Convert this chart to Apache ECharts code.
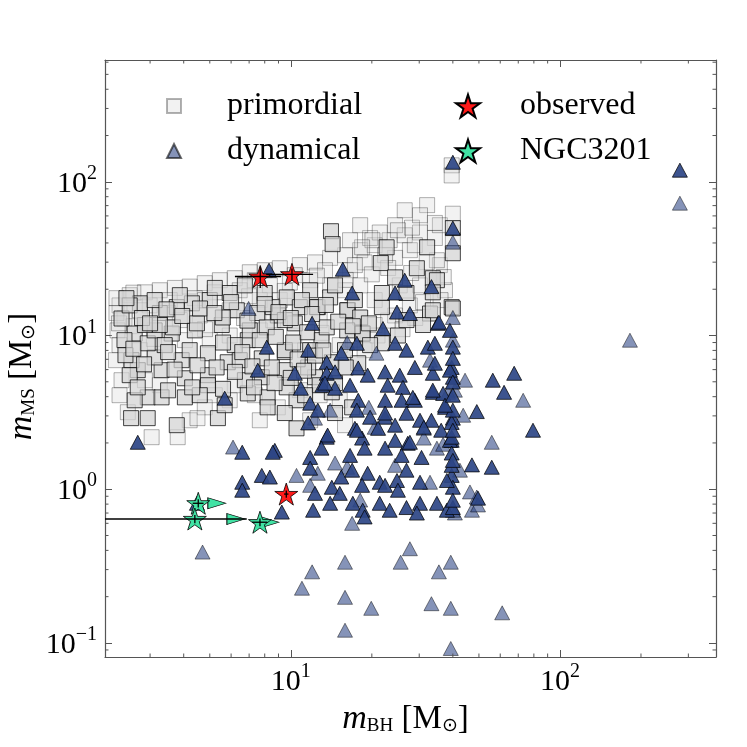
<!DOCTYPE html>
<html>
<head>
<meta charset="utf-8">
<script src="https://cdn.jsdelivr.net/npm/echarts@6/dist/echarts.min.js"></script>
<style>
  html, body { margin: 0; padding: 0; background: #fff; }
  #chart { width: 747px; height: 747px; }
</style>
</head>
<body>
<div id="chart"></div>
<script>
// axis ranges (log axes)
const xRange = [2.04, 380];
const yRange = [0.081, 620];

// primordial binaries, faint and strong points  [m_BH, m_MS]
const primordialFaint = [
  [2.31,15.7],[2.52,18.3],[2.87,19.1],[3.26,19.7],[3.71,20.4],[4.21,20.8],[4.79,21.9],[5.45,22.9],[6.19,23.6],[7.04,25.8],
  [8.0,26.6],[9.1,27.4],[10.8,28.7],[12.3,29.9],[14.0,32.0],[15.9,33.3],[18.1,35.9],[20.5,38.7],[23.3,41.7],[26.5,44.9],
  [30.2,46.8],[34.3,43.1],[35.8,52.2],[27.7,35.9],[24.4,32.0],[19.7,43.1],[18.8,29.9],[16.6,26.6],[13.4,26.6],[11.8,22.9],
  [9.92,22.1],[8.36,21.2],[6.46,19.7],[5.22,19.1],[4.4,17.5],[3.55,17.0],[2.99,15.7],[2.41,12.9],[2.27,10.8],[2.31,8.66],
  [2.24,6.91],[2.35,5.12],[2.31,4.09],[2.48,3.17],[3.04,2.18],[3.8,2.18],[4.21,2.81],[4.79,3.41],[4.5,2.9],[8.95,3.41],
  [6.19,4.75],[7.35,4.09],[10.8,4.41],[12.8,4.09],[11.8,2.81],[15.2,3.79],[15.9,2.61],[7.67,2.81],[5.93,3.79],[5.22,4.09],
  [3.26,4.75],[2.87,5.12],[2.75,8.03],[3.40,8.66],[4.04,9.33],[5.0,9.33],[5.93,10.0],[7.67,10.8],[11.3,8.03],[15.2,8.66],
  [18.8,8.03],[20.5,11.7],[24.4,13.5],[27.7,15.7],[30.2,21.2],[35.8,28.7],[37.4,19.7],[25.4,21.2],[20.5,17.0],[18.1,21.2],
  [15.9,19.7],[14.0,21.2],[39.6,128],[39.6,110],[32.1,70.5],[40.0,62.0],[34.9,30.9],[40,41.7],[24.4,52.2],[21.4,46.8],
  [28.2,50.3],[25.0,48.4],[20.1,41.7],[18.4,37.5],[16.6,41.7],[18.1,52.2],[26.5,65.3],[30.2,60.6],[34.3,54.0],[28.9,38.7],
  [22.4,33.3],[17.3,28.7],[10.35,24.7],[7.35,22.9],[2.75,14.6],[7.67,17.0],[5.93,14.6],[4.59,13.5],[3.87,12.6],[9.1,17.0],
  [12.8,12.6],[2.6,11.5],[3.1,9.5],[4.8,11.0],[6.7,13.0],[8.6,12.6],[10.3,10.0],[13.0,10.4],[17.0,9.4],[21.0,10.0],
  [23.0,12.5],[26.0,11.0],[29.0,13.0],[31.0,16.5],[36.0,17.0],[37.0,24.0],[32.0,30.0],[28.0,25.5],[23.0,27.5],[20.0,25.0],
  [16.0,23.0],[12.5,24.5],[9.5,19.5],[7.0,18.0],[4.8,17.0],[3.5,14.0],[2.6,19.0],[2.25,17.5],[2.25,14.0],[2.3,12.0]
];
const primordialStrong = [
  [2.55,2.9],[2.94,2.9],[3.77,2.61],[5.36,2.9],[10.5,2.49],[2.94,3.96],[2.63,3.79],[3.31,3.96],[4.04,3.96],[6.92,4.2],
  [8.2,3.96],[10.5,3.79],[14.2,4.27],[9.5,3.13],[14.6,3.13],[8.2,3.41],[16.9,3.41],[2.7,5.95],[3.31,5.95],[4.04,5.27],
  [4.92,5.52],[6.75,5.12],[7.8,5.35],[9.5,5.95],[12.3,5.35],[14.6,4.9],[4.92,4.75],[9.66,4.6],[2.56,6.91],[3.12,7.2],
  [3.93,6.91],[4.92,7.67],[5.83,6.7],[6.46,6.91],[7.8,7.1],[9.5,7.8],[8.5,6.2],[11.6,6.2],[14.2,6.7],[17.8,6.6],
  [2.63,10.3],[2.94,8.9],[3.61,10.3],[4.4,10.8],[5.54,11.7],[6.92,9.33],[8.95,13.5],[10.35,12.0],[9.5,8.03],[13.0,9.33],
  [18.4,10.3],[21.8,8.9],[25.0,10.0],[12.6,15.3],[16.3,14.6],[21.8,15.3],[39.6,15.3],[32.9,13.9],[31.0,11.7],[26.9,12.6],
  [14.1,47.7],[14.3,39.3],[21.6,29.6],[22.7,37.5],[29.4,27.4],[32.1,37.5],[24.4,23.9],[21.8,18.9],[26.9,18.9],[33.7,23.6],
  [40,50],[40,34.3],[34.9,22.9],[40,15.0],[33.7,14.6],[33.7,19.1],[2.75,16.2],[3.26,14.0],[3.77,15.3],[4.29,16.2],
  [5.0,17.0],[5.93,18.9],[6.3,14.6],[7.5,14.0],[8.57,15.3],[9.66,17.7],[10.8,15.3],[12.5,15.3],[14.0,17.7],[16.2,14.6],
  [18.1,13.1],[2.41,9.33],[3.12,10.8],[3.65,11.3],[4.48,12.0],[5.59,13.1],[8.14,11.3],[9.5,12.6],[11.5,10.5],[13.6,11.3],
  [16.2,10.8],[18.5,10.3],[2.35,12.9],[2.43,7.45],[2.52,5.52],[2.87,11.7],[3.40,8.66],[4.21,8.03],[7.04,10.8],[6.19,8.66],
  [7.67,9.33],[11.8,8.03],[15.9,8.03],[19.7,8.66],[12.8,4.75],[11.3,4.09],[4.59,4.09],[5.68,3.52],[5.22,20.4],[6.75,21.2],
  [8.0,18.9],[11.8,19.7],[14.6,21.2],[17.3,17.0],[3.87,18.3],[3.12,17.0],[2.52,15.7],[3.26,11.7],
  [2.45,17.5],[2.8,13.0],[3.0,12.0],[3.45,14.8],[3.95,13.4],[4.6,15.0],[5.2,14.0],[6.0,16.5],[6.9,12.5],[8.0,16.0],
  [9.0,14.2],[10.0,13.0],[11.0,17.0],[12.0,13.8],[13.5,15.8],[15.0,12.3],[17.0,11.5],[19.5,12.0],[2.6,8.2],[2.85,6.5],
  [3.5,7.8],[3.7,6.0],[4.5,6.4],[5.3,6.2],[5.6,9.0],[6.6,7.8],[7.2,6.3],[8.8,9.8],[10.2,9.0],[10.6,7.0],
  [12.3,7.4],[13.2,8.0],[16.0,6.2],[2.7,4.6],[3.5,4.4],[4.3,4.6],[5.6,4.5],[6.2,5.8],[7.3,4.6],[8.7,4.9],
  [10.0,5.3],[11.2,5.9]
];

// dynamically formed binaries
const dynamicalFaint = [
  [279,72.6],[182,9.32],[40,40.5],[6.97,15.0],[40,13.1],[16.2,9.0],[20.8,7.67],[32.9,6.91],[19.5,3.41],[40.7,4.41],
  [12.3,2.9],[31.2,2.49],[44.4,5.12],[38.4,4.27],[43.7,3.03],[20.5,2.53],[31.2,2.15],[34.9,1.85],[55.8,2.02],[14.6,1.48],
  [16.2,1.39],[10.5,1.23],[12.6,1.27],[32.9,1.11],[49.1,0.89],[46.3,0.96],[40.7,0.70],[47.1,0.73],[49.6,0.79],[16.9,0.60],
  [6.1,1.88],[4.7,0.39],[12.0,0.29],[11.0,0.227],[15.9,0.335],[15.9,0.198],[15.9,0.121],[19.9,0.168],[25.6,0.335],[27.7,0.41],
  [35.5,0.29],[39.3,0.335],[33.3,0.18],[39.3,0.168],[61.0,0.157],[39.3,0.092],[73.0,3.79],[40,9.33],[36.8,1.96],[40,0.73],
  [14.0,3.27],[24.4,1.43],[18.1,0.85],[42.5,1.33],[11.8,1.06]
];
const dynamicalStrong = [
  [279,119],[40,134],[40,50],[8.3,26.6],[15.6,27.0],[16.9,18.9],[24.4,18.9],[26.5,22.9],[33.3,20.8],[12.0,12.0],
  [24.8,14.2],[27.7,13.9],[35.2,12.0],[22.0,11.1],[8.14,8.4],[11.6,8.03],[17.6,8.9],[24.4,8.9],[26.9,8.03],[32.3,8.4],
  [40,8.4],[13.6,6.7],[15.4,7.67],[7.54,5.95],[10.35,5.68],[13.6,5.68],[14.6,5.8],[17.8,6.15],[19.3,5.52],[22.4,5.8],
  [25.4,5.52],[28.9,6.2],[39.6,6.2],[40,5.35],[10.9,4.54],[13.1,4.75],[14.6,4.54],[16.6,4.75],[17.8,3.79],[22.9,4.75],
  [26.1,4.6],[33.7,4.27],[5.68,3.91],[11.8,3.63],[12.6,3.27],[22.4,3.79],[25.8,3.79],[28.9,3.79],[37.4,3.41],[40,2.9],
  [11.6,2.7],[17.3,2.49],[19.7,2.94],[22.4,2.94],[26.9,3.12],[30.2,2.81],[33.3,2.81],[39.6,2.72],[2.7,2.02],[13.6,2.18],
  [18.4,2.15],[21.1,2.49],[36.2,2.42],[24.4,2.08],[27.2,1.99],[39.6,2.08],[33.7,5.68],[39.0,5.95],[40,4.98],[56.3,5.12],
  [62.0,4.27],[13.4,4.9],[28.4,3.96],[36.8,4.2],[17.6,3.27],[22.4,3.13],[24.4,2.61],[31.2,2.53],[40,3.27],[49.1,3.2],
  [13.7,2.25],[13.0,1.85],[17.6,2.42],[18.8,1.85],[22.4,1.85],[25.8,1.66],[27.7,2.02],[30.6,1.61],[39.0,2.08],[39.6,1.72],
  [8.72,1.79],[16.6,1.66],[11.8,1.61],[11.8,1.37],[15.4,1.2],[16.9,1.33],[19.3,1.27],[21.4,1.11],[24.8,1.14],[26.9,1.33],
  [30.2,1.11],[39.6,1.23],[40,1.03],[47.1,1.44],[55.8,1.39],[14.2,1.03],[12.3,0.94],[15.2,0.94],[18.4,1.06],[22.4,1.06],
  [25.0,0.985],[12.1,0.73],[14.0,0.81],[17.0,0.81],[18.5,0.73],[21.4,0.81],[23.3,0.73],[26.9,0.76],[30.2,0.81],[34.9,0.81],
  [38.0,0.73],[40,0.76],[9.26,0.71],[18.8,0.66],[29.4,0.70],[79.4,2.42],[49.6,0.875],[67.6,5.68],[35.5,12.2],[34.3,8.9],
  [40,7.1],[34.3,6.6],[33.7,4.41],[37.4,3.52],[39.6,2.18],[39.6,1.43],[38.0,1.14],[6.6,1.74],[8.57,1.74],[6.6,1.11],
  [6.6,0.985],[7.8,1.23],[8.36,1.2],[4.48,0.81],[40,4.09],[40,2.42],[40,1.54],[40,0.848],[39,10.8]
];

// observed BH-MS binaries with errors
const observedX = [7.7, 10.1, 9.62];
const observedY = [24.2, 25.0, 0.93];
const observedXErr = [1.5, 2.0, 0.18];
const observedYErr = [3.8, 2.3, 0.05];

// NGC 3201 binaries
const ngcX = [4.53, 4.4, 7.68];
const ngcY = [0.81, 0.64, 0.61];
const ngcXLo = [4.32, 0.5, 7.18];
const ngcXHi = [4.74, 6.86, 8.18];
const ngcYErr = [0.05, 0.04, 0.035];
const ngcArrowX = [5.31, 6.25, 8.36];

const FONT = 'Liberation Serif';
const STAR = 'path://M50 0 L61.2 34.5 L97.6 34.5 L68.2 55.9 L79.4 90.5 L50 69.1 L20.6 90.5 L31.8 55.9 L2.4 34.5 L38.8 34.5 Z';

const chart = echarts.init(document.getElementById('chart'));

function pow10Label(v) {
  const l = Math.log10(v);
  const e = Math.round(l);
  if (Math.abs(l - e) > 1e-6) return '';
  return '{b|10}{s|' + (e < 0 ? '\u2212' + (-e) : e) + '}';
}
const labelRich = {
  b: { fontFamily: FONT, fontSize: 30, color: '#000', lineHeight: 34, verticalAlign: 'bottom' },
  s: { fontFamily: FONT, fontSize: 20, color: '#000', lineHeight: 20, verticalAlign: 'bottom', padding: [0, 0, 15, 0] }
};
const nameRich = {
  i: { fontFamily: FONT, fontStyle: 'italic', fontSize: 34, color: '#000', lineHeight: 40, verticalAlign: 'bottom' },
  sub: { fontFamily: FONT, fontSize: 19, color: '#000', lineHeight: 20, verticalAlign: 'bottom' },
  n: { fontFamily: FONT, fontSize: 33, color: '#000', lineHeight: 40, verticalAlign: 'bottom' }
};
const frameLine = { show: true, lineStyle: { color: '#555', width: 1.2 } };
const majorTick = { show: true, inside: true, length: 7, lineStyle: { color: '#555', width: 1 } };

function errorBars(params, api) {
  const x = api.value(0), y = api.value(1);
  const pL = api.coord([api.value(2), y]), pR = api.coord([api.value(3), y]);
  const pB = api.coord([x, api.value(4)]), pT = api.coord([x, api.value(5)]);
  const st = { stroke: '#000', lineWidth: 1.3 };
  return {
    type: 'group',
    children: [
      { type: 'line', shape: { x1: pL[0], y1: pL[1], x2: pR[0], y2: pR[1] }, style: st },
      { type: 'line', shape: { x1: pB[0], y1: pB[1], x2: pT[0], y2: pT[1] }, style: st }
    ]
  };
}

const errData = observedX.map((x, i) => [x, observedY[i], x - observedXErr[i], x + observedXErr[i],
  observedY[i] - observedYErr[i], observedY[i] + observedYErr[i]])
  .concat(ngcX.map((x, i) => [x, ngcY[i], ngcXLo[i], ngcXHi[i], ngcY[i] - ngcYErr[i], ngcY[i] + ngcYErr[i]]));

const option = {
  animation: false,
  backgroundColor: '#fff',
  grid: { left: 105, right: 31, top: 60, bottom: 90, containLabel: false, outerBoundsMode: 'none' },
  legend: [
    {
      data: ['primordial', 'dynamical'], orient: 'vertical', left: 161, top: 85,
      itemWidth: 14, itemHeight: 14, itemGap: 13, selectedMode: false,
      textStyle: { fontFamily: FONT, fontSize: 32, lineHeight: 30, color: '#000', padding: [0, 0, 0, 41] }
    },
    {
      data: ['observed', 'NGC3201'], orient: 'vertical', left: 450, top: 85,
      itemWidth: 24, itemHeight: 23, itemGap: 13, selectedMode: false,
      textStyle: { fontFamily: FONT, fontSize: 32, lineHeight: 30, color: '#000', padding: [0, 0, 0, 35] }
    }
  ],
  xAxis: [
    {
      type: 'log', min: xRange[0], max: xRange[1], position: 'bottom',
      axisLine: frameLine, axisTick: majorTick, splitLine: { show: false },
      axisLabel: { formatter: pow10Label, rich: labelRich, margin: 6, showMinLabel: false, showMaxLabel: false },
      name: '{i|m}{sub|BH}{n| [M}{sub|\u2299}{n|]}', nameLocation: 'middle', nameGap: 37,
      nameTextStyle: { rich: nameRich, padding: [0, 10, 0, 0] }
    },
    {
      type: 'log', min: xRange[0], max: xRange[1], position: 'top',
      axisLine: frameLine, axisTick: majorTick, axisLabel: { show: false }, splitLine: { show: false }
    }
  ],
  yAxis: [
    {
      type: 'log', min: yRange[0], max: yRange[1], position: 'left',
      axisLine: frameLine, axisTick: majorTick, splitLine: { show: false },
      axisLabel: { formatter: pow10Label, rich: labelRich, margin: 8, showMinLabel: false, showMaxLabel: false },
      name: '{i|m}{sub|MS}{n| [M}{sub|\u2299}{n|]}', nameLocation: 'middle', nameGap: 66, nameMoveOverlap: false,
      nameTextStyle: { rich: nameRich, padding: [0, 36, 0, 0] }
    },
    {
      type: 'log', min: yRange[0], max: yRange[1], position: 'right',
      axisLine: frameLine, axisTick: majorTick, axisLabel: { show: false }, splitLine: { show: false }
    }
  ],
  series: [
    {
      name: 'primordial', type: 'scatter', data: primordialFaint, symbol: 'rect', symbolSize: 15,
      itemStyle: { color: '#d3d3d3', borderColor: '#000', borderWidth: 1, opacity: 0.3 }
    },
    {
      name: 'primordial', type: 'scatter', data: primordialStrong, symbol: 'rect', symbolSize: 15,
      itemStyle: { color: '#d3d3d3', borderColor: '#000', borderWidth: 1, opacity: 0.72 }
    },
    {
      name: 'dynamical', type: 'scatter', data: dynamicalFaint, symbol: 'triangle', symbolSize: [15, 14],
      itemStyle: { color: '#2c4585', borderColor: '#000', borderWidth: 0.8, opacity: 0.58 }
    },
    {
      name: 'dynamical', type: 'scatter', data: dynamicalStrong, symbol: 'triangle', symbolSize: [15, 14],
      itemStyle: { color: '#2c4585', borderColor: '#000', borderWidth: 0.8, opacity: 0.92 }
    },
    {
      name: 'limits', type: 'scatter', data: ngcArrowX.map((x, i) => [x, ngcY[i]]),
      symbol: 'triangle', symbolRotate: -90, symbolSize: [11, 18],
      itemStyle: { color: '#41e2a4', borderColor: '#000', borderWidth: 0.8, opacity: 1 }
    },
    {
      name: 'NGC3201', type: 'scatter', data: ngcX.map((x, i) => [x, ngcY[i]]),
      symbol: STAR, symbolSize: [23, 22],
      itemStyle: { color: '#41e2a4', borderColor: '#000', borderWidth: 0.8, opacity: 1 }
    },
    {
      name: 'observed', type: 'scatter', data: observedX.map((x, i) => [x, observedY[i]]),
      symbol: STAR, symbolSize: [23, 22],
      itemStyle: { color: '#ff1a1a', borderColor: '#000', borderWidth: 0.8, opacity: 1 }
    },
    {
      name: 'errors', type: 'custom', renderItem: errorBars, data: errData, clip: true,
      encode: { x: 0, y: 1 }, z: 5
    }
  ]
};
chart.setOption(option);

// minor ticks of the log axes, placed through the axis scales
function minorTicks() {
  const els = [];
  const x0 = chart.convertToPixel({ xAxisIndex: 0 }, xRange[0]);
  const x1 = chart.convertToPixel({ xAxisIndex: 0 }, xRange[1]);
  const yb = chart.convertToPixel({ yAxisIndex: 0 }, yRange[0]);
  const yt = chart.convertToPixel({ yAxisIndex: 0 }, yRange[1]);
  const st = { stroke: '#555', lineWidth: 1 };
  const len = 3.5;
  for (let k = -2; k <= 3; k++) {
    for (let m = 2; m <= 9; m++) {
      const v = m * Math.pow(10, k);
      if (v > xRange[0] && v < xRange[1]) {
        const px = chart.convertToPixel({ xAxisIndex: 0 }, v);
        els.push({ type: 'line', shape: { x1: px, y1: yb, x2: px, y2: yb - len }, style: st, z: 10 });
        els.push({ type: 'line', shape: { x1: px, y1: yt, x2: px, y2: yt + len }, style: st, z: 10 });
      }
      if (v > yRange[0] && v < yRange[1]) {
        const py = chart.convertToPixel({ yAxisIndex: 0 }, v);
        els.push({ type: 'line', shape: { x1: x0, y1: py, x2: x0 + len, y2: py }, style: st, z: 10 });
        els.push({ type: 'line', shape: { x1: x1, y1: py, x2: x1 - len, y2: py }, style: st, z: 10 });
      }
    }
  }
  chart.setOption({ graphic: els });
}
minorTicks();
</script>
</body>
</html>
